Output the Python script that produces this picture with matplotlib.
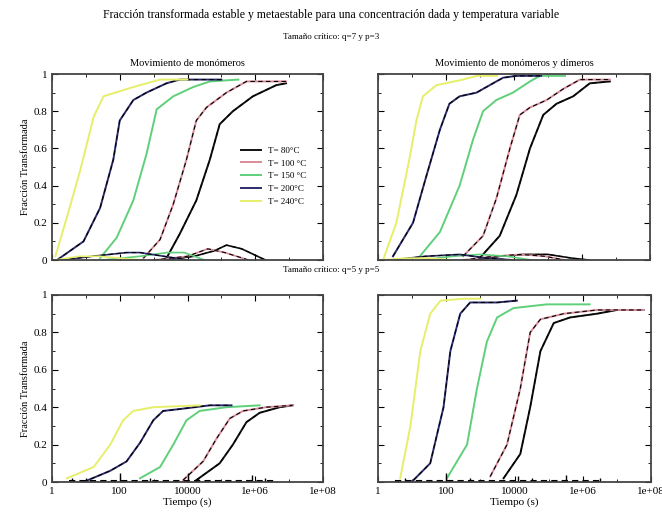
import matplotlib.pyplot as plt
import numpy as np
from matplotlib.ticker import FixedLocator, FixedFormatter, NullFormatter

plt.rcParams['font.family'] = ['Liberation Serif', 'DejaVu Serif']

temps = ['T= 80°C', 'T= 100 °C', 'T= 150 °C', 'T= 200°C', 'T= 240°C']
colores = ['#111111', '#d98a98', '#5fcf7a', '#2c2c6e', '#e6ef6a']
rayado = [True, True, False, True, False]

# log10 del tiempo y fraccion estable, panel por panel (orden: 80,100,150,200,240)
# arriba izquierda
a1_x = [[3.38, 3.77, 4.26, 4.66, 4.95, 5.34, 5.93, 6.62, 6.91],
        [2.7, 3.19, 3.58, 3.97, 4.26, 4.56, 5.15, 5.74, 6.91],
        [1.42, 1.91, 2.4, 2.79, 3.09, 3.58, 4.17, 4.66, 5.5],
        [0.15, 0.93, 1.42, 1.81, 2.0, 2.4, 2.79, 3.38, 3.77, 5.0],
        [0.1, 0.44, 0.83, 1.23, 1.52, 2.4, 3.19, 4.0]]
a1_y = [[0.01, 0.14, 0.32, 0.54, 0.73, 0.8, 0.88, 0.94, 0.95],
        [0.01, 0.11, 0.3, 0.54, 0.75, 0.82, 0.9, 0.96, 0.96],
        [0.01, 0.12, 0.32, 0.57, 0.81, 0.88, 0.93, 0.96, 0.97],
        [0.0, 0.1, 0.28, 0.54, 0.75, 0.86, 0.9, 0.95, 0.97, 0.97],
        [0.02, 0.23, 0.48, 0.77, 0.88, 0.93, 0.97, 0.97]]
# metaestable arriba izquierda
m1_x = [[3.3, 4.2, 4.8, 5.15, 5.6, 6.3],
        [3.0, 4.0, 4.6, 5.1, 5.8],
        [1.5, 2.6, 3.4, 3.9, 4.5],
        [0.3, 1.2, 2.2, 2.6, 3.3, 4.0],
        [0.1, 0.8, 1.4, 2.0, 2.6]]
m1_y = [[0.0, 0.02, 0.05, 0.08, 0.06, 0.0],
        [0.0, 0.02, 0.06, 0.04, 0.0],
        [0.0, 0.02, 0.04, 0.04, 0.0],
        [0.0, 0.02, 0.04, 0.04, 0.02, 0.0],
        [0.0, 0.02, 0.02, 0.01, 0.0]]
# arriba derecha
a2_x = [[2.99, 3.58, 4.07, 4.47, 4.86, 5.25, 5.74, 6.23, 6.82],
        [2.5, 3.09, 3.48, 3.88, 4.17, 4.47, 4.96, 5.45, 5.94, 6.82],
        [1.23, 1.82, 2.4, 2.8, 3.09, 3.48, 3.97, 4.47, 4.76, 5.5],
        [0.44, 1.03, 1.42, 1.82, 2.1, 2.4, 2.9, 3.48, 3.68, 4.07, 4.8],
        [0.15, 0.54, 0.93, 1.13, 1.32, 1.72, 2.5, 2.9, 3.5]]
a2_y = [[0.01, 0.13, 0.35, 0.6, 0.78, 0.84, 0.88, 0.95, 0.96],
        [0.02, 0.13, 0.33, 0.6, 0.78, 0.82, 0.86, 0.92, 0.97, 0.97],
        [0.02, 0.15, 0.4, 0.65, 0.8, 0.86, 0.9, 0.96, 0.99, 0.99],
        [0.02, 0.2, 0.45, 0.7, 0.84, 0.88, 0.9, 0.96, 0.98, 0.99, 0.99],
        [0.0, 0.2, 0.55, 0.75, 0.88, 0.94, 0.97, 0.99, 0.99]]
m2_x = [[2.8, 3.6, 4.3, 5.0, 5.7, 6.2],
        [2.5, 3.4, 4.2, 4.9, 5.5],
        [1.3, 2.2, 3.0, 3.8, 4.5],
        [0.4, 1.4, 2.4, 3.2, 4.0],
        [0.1, 0.8, 1.5, 2.2]]
m2_y = [[0.0, 0.02, 0.03, 0.03, 0.01, 0.0],
        [0.0, 0.02, 0.03, 0.02, 0.0],
        [0.0, 0.02, 0.03, 0.02, 0.0],
        [0.0, 0.02, 0.03, 0.01, 0.0],
        [0.0, 0.01, 0.01, 0.0]]
# abajo izquierda
b1_x = [[4.26, 4.95, 5.34, 5.74, 6.13, 6.72, 7.1],
        [3.87, 4.46, 4.85, 5.25, 5.64, 6.32, 7.1],
        [2.6, 3.19, 3.58, 3.97, 4.36, 5.15, 6.13],
        [0.93, 1.72, 2.2, 2.6, 2.99, 3.28, 3.77, 4.66, 5.3],
        [0.44, 1.23, 1.72, 2.1, 2.4, 2.99, 4.36]]
b1_y = [[0.01, 0.1, 0.2, 0.32, 0.37, 0.4, 0.41],
        [0.01, 0.11, 0.23, 0.34, 0.38, 0.4, 0.41],
        [0.02, 0.08, 0.2, 0.33, 0.38, 0.4, 0.41],
        [0.0, 0.06, 0.11, 0.21, 0.33, 0.38, 0.39, 0.41, 0.41],
        [0.02, 0.08, 0.2, 0.33, 0.38, 0.4, 0.41]]
# abajo derecha
b2_x = [[3.68, 4.17, 4.46, 4.76, 5.15, 5.63, 6.42, 7.0, 7.78],
        [3.29, 3.78, 4.17, 4.46, 4.76, 5.44, 6.42, 7.78],
        [2.02, 2.61, 2.9, 3.19, 3.49, 3.97, 4.95, 6.2],
        [1.04, 1.53, 1.92, 2.12, 2.41, 2.7, 3.49, 4.07],
        [0.65, 0.95, 1.24, 1.53, 1.83, 2.5, 3.0]]
b2_y = [[0.02, 0.15, 0.4, 0.7, 0.85, 0.88, 0.9, 0.92, 0.92],
        [0.03, 0.2, 0.5, 0.8, 0.87, 0.9, 0.92, 0.92],
        [0.02, 0.2, 0.5, 0.75, 0.88, 0.93, 0.95, 0.95],
        [0.01, 0.1, 0.4, 0.7, 0.9, 0.96, 0.96, 0.97],
        [0.02, 0.3, 0.7, 0.9, 0.97, 0.98, 0.98]]
# picos cerca de cero en los paneles de abajo (log10 t, altura)
p1_x = [0.6, 1.0, 2.0, 2.9, 4.0, 4.3, 5.9, 6.3]
p1_y = [0.02, 0.02, 0.05, 0.02, 0.05, 0.02, 0.04, 0.02]
p2_x = [0.5, 0.8, 2.0, 2.7, 4.1, 4.5, 5.5, 6.5]
p2_y = [0.01, 0.02, 0.05, 0.02, 0.03, 0.02, 0.04, 0.02]

xticks = [1, 1e2, 1e4, 1e6, 1e8]
xtick_labels = ['1', '100', '10000', '1e+06', '1e+08']
yticks = [0, 0.2, 0.4, 0.6, 0.8, 1]
ytick_labels = ['0', '0.2', '0.4', '0.6', '0.8', '1']

fig = plt.figure(figsize=(6.62, 5.19), dpi=100)
W, H = 662, 519
cajas = [(52, 74, 323, 260), (378, 74, 650, 260),
         (52, 295, 323, 482), (378, 295, 651, 482)]
axs = [fig.add_axes([l / W, 1 - b / H, (r - l) / W, (b - t) / H]) for l, t, r, b in cajas]

def curvas(ax, xs, ys, lw=1.4):
    for i in range(5):
        t = 10 ** np.array(xs[i])
        ax.plot(t, ys[i], color=colores[i], lw=lw, label=temps[i])
        if rayado[i]:
            ax.plot(t, ys[i], color='black', lw=0.8, ls=(0, (4, 3)))

curvas(axs[0], a1_x, a1_y)
curvas(axs[0], m1_x, m1_y, lw=1.2)
curvas(axs[1], a2_x, a2_y)
curvas(axs[1], m2_x, m2_y, lw=1.2)
curvas(axs[2], b1_x, b1_y)
curvas(axs[3], b2_x, b2_y)
for ax, px, py in [(axs[2], p1_x, p1_y), (axs[3], p2_x, p2_y)]:
    ax.vlines(10 ** np.array(px), 0, py, color='black', lw=1)
    ax.plot(10 ** np.array([0.5, 6.6]), [0.005, 0.005], color='black', lw=1.5, ls=(0, (3, 2)))

for i, ax in enumerate(axs):
    ax.set_xscale('log')
    ax.set_xlim(1, 1e8)
    ax.set_ylim(0, 1)
    ax.xaxis.set_major_locator(FixedLocator(xticks))
    ax.xaxis.set_minor_locator(FixedLocator([10.0 ** k for k in range(1, 8, 2)]))
    ax.xaxis.set_minor_formatter(NullFormatter())
    ax.yaxis.set_major_locator(FixedLocator(yticks))
    ax.yaxis.set_minor_locator(FixedLocator([0.1, 0.3, 0.5, 0.7, 0.9]))
    ax.tick_params(direction='in', length=4, labelsize=8, top=True, right=True)
    ax.tick_params(which='minor', direction='in', length=2, top=True, right=True)
    for s in ax.spines.values():
        s.set_linewidth(1.3)
        s.set_color('#444444')
    if i < 2:
        ax.xaxis.set_major_formatter(NullFormatter())
    else:
        ax.xaxis.set_major_formatter(FixedFormatter(xtick_labels))
        ax.set_xlabel('Tiempo (s)', fontsize=8, labelpad=1)
    if i % 2 == 1:
        ax.yaxis.set_major_formatter(NullFormatter())
    else:
        ax.yaxis.set_major_formatter(FixedFormatter(ytick_labels))
        ax.set_ylabel('Fracción Transformada', fontsize=7.5, labelpad=2)

h, l = axs[0].get_legend_handles_labels()
axs[0].legend(h[:5], l[:5], loc='center right', bbox_to_anchor=(0.97, 0.45),
              frameon=False, fontsize=6.5, handlelength=2.2, labelspacing=0.5)

fig.text(0.5, 1 - 15 / H, 'Fracción transformada estable y metaestable para una concentración dada y temperatura variable',
         ha='center', va='center', fontsize=8.5)
fig.text(0.5, 1 - 37 / H, 'Tamaño crítico: q=7 y p=3', ha='center', va='center', fontsize=6.5)
fig.text(0.5, 1 - 270 / H, 'Tamaño crítico: q=5 y p=5', ha='center', va='center', fontsize=6.5)
axs[0].set_title('Movimiento de monómeros', fontsize=7.5, pad=6)
axs[1].set_title('Movimiento de monómeros y dímeros', fontsize=7.5, pad=6)

fig.savefig('out.png', dpi=100)
